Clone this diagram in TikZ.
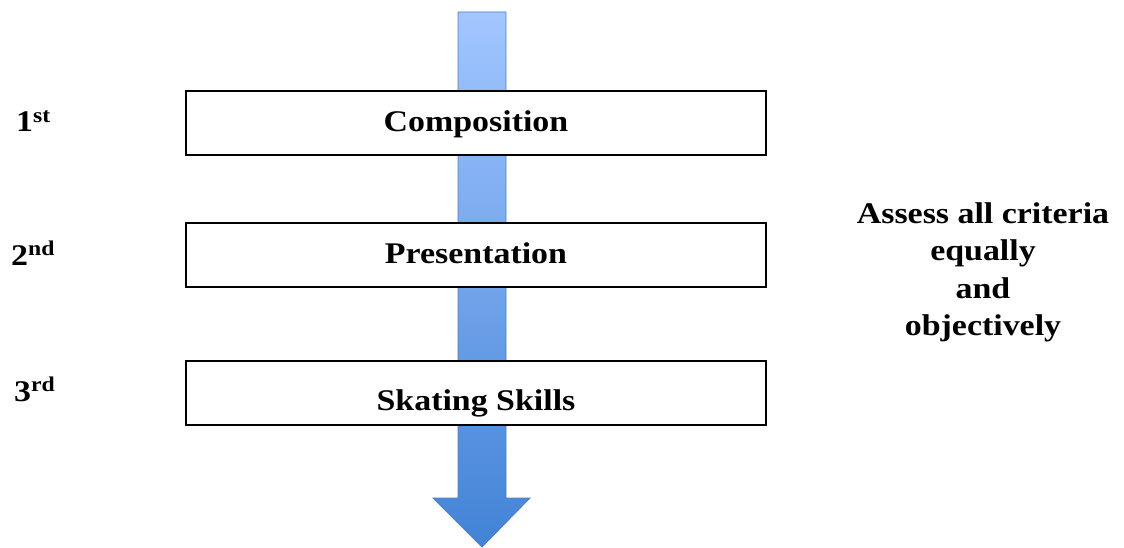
\documentclass[tikz,border=0pt]{standalone}
\usepackage{fontspec}
\setmainfont[FakeStretch=1.13]{Liberation Serif}
\definecolor{arrowtop}{HTML}{A2C6FF}
\definecolor{arrowbot}{HTML}{4283D6}
\definecolor{arrowline}{HTML}{4F7FC0}
\begin{document}
\begin{tikzpicture}[x=1pt,y=-1pt,
  stage/.style={draw=black,line width=2.2pt,fill=white,minimum width=580pt,minimum height=64pt,inner sep=0pt,
    text height=20pt,text depth=1.6pt,font=\fontsize{30}{36}\selectfont\bfseries},
  rank/.style={anchor=base west,inner sep=0pt,font=\fontsize{30}{36}\selectfont\bfseries},
  note/.style={anchor=base,inner sep=0pt,font=\fontsize{30}{36}\selectfont\bfseries}]
\useasboundingbox (0,0) rectangle (1124,548);
% arrow
\shade[top color=arrowtop,bottom color=arrowbot,draw=arrowline,line width=0.8pt]
  (458,12) -- (506,12) -- (506,498) -- (530,498) -- (482,547) -- (433,498) -- (458,498) -- cycle;
% stages
\node[stage] (comp) at (476,122.8) {Composition};
\node[stage] (pres) at (476,254.7) {Presentation};
\node[stage,text height=34pt,text depth=0pt] (skat) at (476,393.3) {Skating Skills};
% ranks
\node[rank] (r1) at (16,132) {1\textsuperscript{st}};
\node[rank] (r2) at (11,265) {2\textsuperscript{nd}};
\node[rank] (r3) at (14,401) {3\textsuperscript{rd}};
% note
\node[note] (n1) at (983,223) {Assess all criteria};
\node[note] (n2) at (983,260.5) {equally};
\node[note] (n3) at (983,298) {and};
\node[note] (n4) at (983,335.5) {objectively};
\end{tikzpicture}
\end{document}
